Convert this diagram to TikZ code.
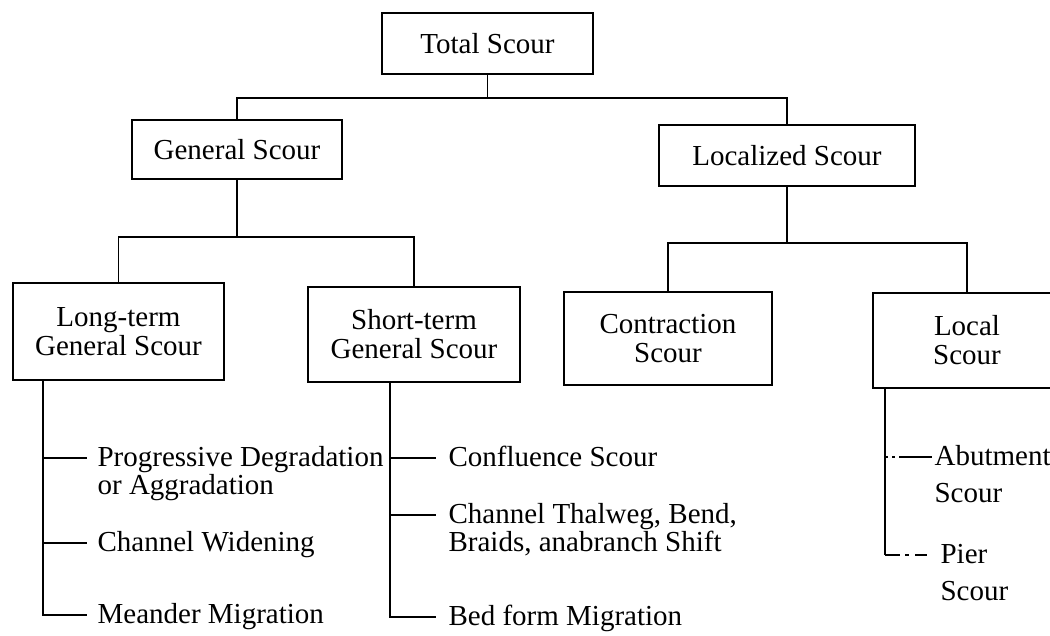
\documentclass[tikz,border=0pt]{standalone}
\usepackage{fontspec}
\setmainfont{Liberation Serif}
\newcommand\twol[2]{\begin{tabular}[t]{@{}l@{}}#1\\#2\end{tabular}}
\begin{document}
\begin{tikzpicture}[x=1pt,y=-1pt,line width=1.2pt,
  box/.style={draw,inner sep=0pt,align=center,font=\fontsize{29}{29}\selectfont},
  item/.style={inner sep=0pt,anchor=base west,font=\fontsize{29}{27}\selectfont},
  litem/.style={inner sep=0pt,anchor=base west,font=\fontsize{29}{37}\selectfont},
  abutdash/.style={dash pattern=on 3pt off 4pt on 3pt off 4pt on 40pt},
  pierdash/.style={dash pattern=on 15pt off 5pt on 4pt off 6pt on 20pt}]
\clip (0,0) rectangle (1050,636);
\fill[white] (0,0) rectangle (1050,636);

% boxes
\node[box,minimum width=211pt,minimum height=61pt] (total) at (487.5,43.5) {Total Scour};
\node[box,minimum width=210pt,minimum height=59pt] (general) at (237,149.5) {General Scour};
\node[box,minimum width=256pt,minimum height=61pt] (localized) at (787,155.5) {Localized Scour};
\node[box,minimum width=211pt,minimum height=97pt] (longterm) at (118.5,331.5) {Long-term\\General Scour};
\node[box,minimum width=212pt,minimum height=95pt] (shortterm) at (414,334.5) {Short-term\\General Scour};
\node[box,minimum width=208pt,minimum height=93pt] (contraction) at (668,338.5) {Contraction\\Scour};
\node[box,minimum width=188pt,minimum height=95pt] (local) at (967,340.5) {Local\\Scour};

% tree connectors
\coordinate (h1) at (0,98);
\coordinate (h2) at (0,237);
\coordinate (h3) at (0,243);
\draw (total.south) -- (total.south |- h1);
\draw (general.north) -- (general.north |- h1) -- (localized.north |- h1) -- (localized.north);
\draw (general.south) -- (general.south |- h2);
\draw (longterm.north) -- (longterm.north |- h2) -- (shortterm.north |- h2) -- (shortterm.north);
\draw (localized.south) -- (localized.south |- h3);
\draw (contraction.north) -- (contraction.north |- h3) -- (local.north |- h3) -- (local.north);

% long-term items
\coordinate (lx) at (43,0);
\coordinate (la) at (87,458);
\coordinate (lb) at (87,543);
\coordinate (lc) at (87,615);
\draw (longterm.south -| lx) -- (lx |- lc) -- (lc);
\draw (lx |- la) -- (la);
\draw (lx |- lb) -- (lb);
\node[item] (prog) at ([xshift=10pt,yshift=-8pt]la) {\twol{Progressive Degradation}{or Aggradation}};
\node[item] (widen) at ([xshift=10pt,yshift=-8pt]lb) {Channel Widening};
\node[item] (meander) at ([xshift=10pt,yshift=-8pt]lc) {Meander Migration};

% short-term items
\coordinate (sx) at (390,0);
\coordinate (sa) at (436,458);
\coordinate (sb) at (436,515);
\coordinate (sc) at (436,617);
\draw (shortterm.south -| sx) -- (sx |- sc) -- (sc);
\draw (sx |- sa) -- (sa);
\draw (sx |- sb) -- (sb);
\node[item] (confl) at ([xshift=12pt,yshift=-8pt]sa) {Confluence Scour};
\node[item] (thalweg) at ([xshift=12pt,yshift=-8pt]sb) {\twol{Channel Thalweg, Bend,}{Braids, anabranch Shift}};
\node[item] (bedform) at ([xshift=12pt,yshift=-8pt]sc) {Bed form Migration};

% local items
\coordinate (px) at (885,0);
\coordinate (pa) at (932,457);
\coordinate (pb) at (927,555);
\draw (local.south -| px) -- (px |- pb);
\draw[abutdash] (px |- pa) -- (pa);
\draw[pierdash] (px |- pb) -- (pb);
\node[litem] (abut) at ([xshift=2pt,yshift=-8pt]pa) {\twol{Abutment}{Scour}};
\node[litem] (pier) at ([xshift=13pt,yshift=-8pt]pb) {\twol{Pier}{Scour}};
\end{tikzpicture}
\end{document}
